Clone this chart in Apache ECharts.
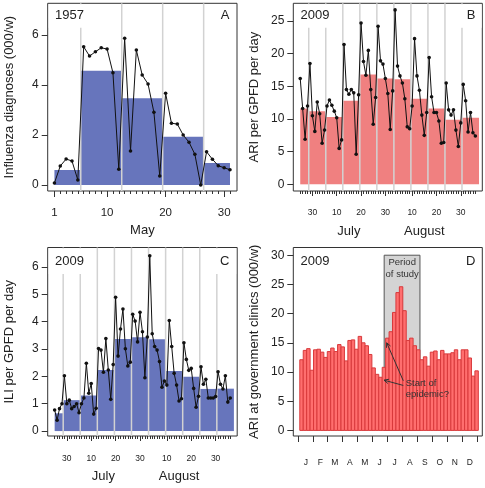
<!DOCTYPE html>
<html><head><meta charset="utf-8">
<script src="https://cdn.jsdelivr.net/npm/echarts@6/dist/echarts.min.js"></script>
<style>html,body{margin:0;padding:0;background:#fff}#c{width:485px;height:488px}</style>
</head><body><div id="c"></div>
<script>
// ---------- Panel A : 1957, May ----------
const aDays = [1,2,3,4,5,6,7,8,9,10,11,12,13,14,15,16,17,18,19,20,21,22,23,24,25,26,27,28,29,30,31];
const aDiagnoses = [0.08,0.76,1.04,0.96,0.2,5.53,5.16,5.33,5.49,5.44,4.49,0.63,5.87,1.36,5.4,4.4,4.04,2.91,0.36,3.67,2.47,2.44,2.0,1.71,1.23,0.0,1.33,1.03,0.77,0.69,0.61];
const aWeekStart = [1,5.5,12.5,19.5,26.5];
const aWeekEnd = [5.5,12.5,19.5,26.5,31];
const aWeekMean = [0.6,4.57,3.47,1.93,0.88];
const aTickDays = [1,10,20,30];
const aYTicks = [0,2,4,6];

// ---------- Panels B & C : 2009, days counted from 30 June ----------
const bcDays = [-5,-4,-3,-2,-1,0,1,2,3,4,5,6,7,8,9,10,11,12,13,14,15,16,17,18,19,20,21,22,23,24,25,26,27,28,29,30,31,32,33,34,35,36,37,38,39,40,41,42,43,44,45,46,47,48,49,50,51,52,53,54,55,56,57,58,59,60,61,62,63,64,65,66,67];
const bARI = [16.2,11.6,6.9,12.0,18.5,10.5,8.1,12.6,10.8,6.3,8.3,12.0,12.9,12.1,11.2,10.2,5.5,6.8,21.4,14.5,13.8,14.5,14.0,4.6,13.7,24.7,18.8,16.7,20.5,14.5,9.2,13.3,24.2,18.9,18.4,16.2,13.9,8.4,14.3,26.7,18.1,16.6,15.5,13.1,8.8,8.5,12.0,22.3,16.6,14.4,10.6,7.5,11.0,19.4,13.4,11.0,11.0,9.7,6.3,6.4,15.5,11.4,10.6,11.4,8.3,5.8,9.4,15.3,12.8,8.0,11.0,7.9,7.4];
const cILI = [0.77,0.40,0.82,1.0,2.02,1.0,1.13,0.82,0.9,1.0,0.67,1.0,1.21,2.48,1.38,1.74,0.62,0.83,3.02,2.96,2.15,3.38,2.23,1.16,2.43,4.89,2.74,3.73,4.46,3.01,2.38,2.52,4.27,4.02,3.26,4.34,3.63,1.95,3.44,6.41,3.56,3.09,2.96,2.54,1.6,1.83,1.68,4.04,3.09,2.11,1.68,1.1,1.18,3.23,2.62,2.22,2.29,1.56,0.87,1.27,2.35,1.71,1.89,1.21,1.21,1.21,1.26,2.17,1.71,1.54,2.02,1.06,1.21];
const bcWeekStart = [-5,-1.5,5.5,12.5,19.5,26.5,33.5,40.5,47.5,54.5,61.5];
const bcWeekEnd = [-1.5,5.5,12.5,19.5,26.5,33.5,40.5,47.5,54.5,61.5,68.5];
const bWeekMean = [11.6,11.2,10.3,12.8,16.8,16.2,16.1,13.1,11.6,9.9,10.2];
const cWeekMean = [0.65,1.13,1.3,2.23,3.37,3.43,3.36,2.2,1.99,1.54,1.55];
const bcTickDays = [0,10,20,30,41,51,61];
const bcTickLabels = ['30','10','20','30','10','20','30'];
const bcMonthDays = [15,46];
const bcMonthLabels = ['July','August'];
const bYTicks = [0,5,10,15,20,25];
const cYTicks = [0,1,2,3,4,5,6];

// ---------- Panel D : 2009 weekly ARI, day of year ----------
const dWeekStart = [3,10,17,24,31,38,45,52,59,66,73,80,87,94,101,108,115,122,129,136,143,150,157,164,171,178,185,192,199,206,213,220,227,234,241,248,255,262,269,276,283,290,297,304,311,318,325,332,339,346,353,360];
const dWeekLength = 7;
const dARI = [12.1,13.7,14.0,10.3,13.8,13.9,13.4,12.5,13.5,14.1,13.5,14.7,14.3,11.9,15.4,15.5,13.9,16.1,15.0,14.5,13.0,10.7,9.6,9.1,10.8,15.8,16.9,20.2,23.6,24.6,20.5,15.4,15.8,14.5,13.8,12.1,12.6,11.0,13.4,13.6,12.1,13.7,13.1,13.1,13.3,13.8,12.1,13.8,13.8,12.4,9.3,10.2];
const dMonthStart = [0,31,59,90,120,151,181,212,243,273,304,334,365];
const dMonthLabels = ['J','F','M','A','M','J','J','A','S','O','N','D'];
const dStudyPeriod = [175,248];
const dStudyTop = 30;
const dArrows = [[214,8.5,180.2,15.0],[214,7.7,174.7,8.6]];
const dYTicks = [0,5,10,15,20,25,30];

// ---------- styling ----------
const FONT = 'Liberation Sans, Arial, sans-serif';
const TXT = '#222';
const AX = '#333';
const BLUE = '#6775bc';
const SALMON = '#f08080';
const WEEKLINE = '#d2d2d2';

const chart = echarts.init(document.getElementById('c'), null, {renderer:'canvas'});

function gridBox(left, top, width, height){
  return {left, top, width, height, show:true, borderColor:AX, borderWidth:1, backgroundColor:'transparent', containLabel:false};
}
function yAx(grid, min, max, ticks, name){
  return {type:'value', gridIndex:grid, position:'left', min, max,
    axisLine:{show:false, onZero:false}, splitLine:{show:false},
    axisTick:{show:true, customValues:ticks, length:6, lineStyle:{color:AX}},
    axisLabel:{show:true, customValues:ticks, fontSize:12, fontFamily:FONT, color:TXT, margin:9},
    name, nameLocation:'middle', nameGap:32, nameRotate:90,
    nameTextStyle:{fontSize:13, fontFamily:FONT, color:TXT}};
}
function xMinor(grid, min, max, ticks){
  return {type:'value', gridIndex:grid, position:'bottom', offset:0, min, max, axisLine:{show:false, onZero:false}, splitLine:{show:false},
    axisTick:{show:true, customValues:ticks, length:3, lineStyle:{color:AX}}, axisLabel:{show:false}};
}
function xMajor(grid, min, max, ticks, labels, fs, margin, len){
  return {type:'value', gridIndex:grid, position:'bottom', offset:0, min, max, axisLine:{show:false, onZero:false}, splitLine:{show:false},
    axisTick:{show:true, customValues:ticks, length:len, lineStyle:{color:AX}},
    axisLabel:{show:labels.length>0, customValues:ticks, fontSize:fs, fontFamily:FONT, color:TXT, margin,
      formatter:(v)=>{const i=ticks.indexOf(v); return i>=0 ? labels[i] : '';}}};
}
function xMonths(grid, min, max, pos, labels, fs, margin){
  return {type:'value', gridIndex:grid, position:'bottom', offset:0, min, max, axisLine:{show:false, onZero:false}, splitLine:{show:false},
    axisTick:{show:false},
    axisLabel:{show:true, customValues:pos, fontSize:fs, fontFamily:FONT, color:TXT, margin,
      formatter:(v)=>{const i=pos.indexOf(v); return i>=0 ? labels[i] : '';}}};
}

function barSeries(xi, yi, starts, ends, vals, fill, stroke, z){
  return {type:'custom', xAxisIndex:xi, yAxisIndex:yi, z, silent:true,
    encode:{x:[0,1], y:2},
    data: starts.map((s,i)=>[s, ends[i], vals[i]]),
    renderItem:(params, api)=>{
      const p0 = api.coord([api.value(0), api.value(2)]);
      const p1 = api.coord([api.value(1), 0]);
      const st = {fill};
      if (stroke){ st.stroke = stroke; st.lineWidth = 1; }
      return {type:'rect', shape:{x:p0[0], y:p0[1], width:p1[0]-p0[0], height:p1[1]-p0[1]}, style:st};
    }};
}
function weekLines(xi, yi, xs, z){
  return {type:'custom', xAxisIndex:xi, yAxisIndex:yi, z, silent:true,
    encode:{x:0},
    data: xs.map(x=>[x]),
    renderItem:(params, api)=>{
      const cs = params.coordSys;
      const x = api.coord([api.value(0), 0])[0];
      return {type:'line', shape:{x1:x, y1:cs.y, x2:x, y2:cs.y+cs.height}, style:{stroke:WEEKLINE, lineWidth:1.5}};
    }};
}
function dailyLine(xi, yi, xs, ys){
  return {type:'line', xAxisIndex:xi, yAxisIndex:yi, z:5, silent:true,
    data: xs.map((x,i)=>[x, ys[i]]),
    symbol:'circle', symbolSize:3.6, showSymbol:true,
    itemStyle:{color:'#111'}, lineStyle:{color:'#111', width:1}};
}

const AXMIN = -0.15, AXMAX = 32.2;
const BCMIN = -7.85, BCMAX = 69.85;
const DXMIN = -10.26, DXMAX = 375.1;
const dMonthMid = dMonthStart.slice(0,-1).map((m,i)=>(m+dMonthStart[i+1])/2);

const option = {
  animation:false,
  backgroundColor:'#fff',
  grid:[
    gridBox(47.7, 3.3, 189.3, 187.7),
    gridBox(293.3, 3.3, 189, 187.7),
    gridBox(47.7, 247.5, 189.5, 188.5),
    gridBox(293.3, 247.5, 189, 188.5)
  ],
  xAxis:[
    xMinor(0, AXMIN, AXMAX, aDays),                                   // 0
    Object.assign(xMajor(0, AXMIN, AXMAX, aTickDays, aTickDays.map(String), 11.5, 16, 6),
      {name:'May', nameLocation:'middle', nameGap:33, nameTextStyle:{fontSize:13, fontFamily:FONT, color:TXT}}), // 1
    xMinor(1, BCMIN, BCMAX, bcDays),                                  // 2
    xMajor(1, BCMIN, BCMAX, bcTickDays, bcTickLabels, 8.5, 17.5, 5),  // 3
    xMonths(1, BCMIN, BCMAX, bcMonthDays, bcMonthLabels, 13, 34),     // 4
    xMinor(2, BCMIN, BCMAX, bcDays),                                  // 5
    xMajor(2, BCMIN, BCMAX, bcTickDays, bcTickLabels, 8.5, 18.5, 5),  // 6
    xMonths(2, BCMIN, BCMAX, bcMonthDays, bcMonthLabels, 13, 34),     // 7
    xMajor(3, DXMIN, DXMAX, dMonthStart, [], 8.5, 22.5, 6),           // 8 month ticks
    xMonths(3, DXMIN, DXMAX, dMonthMid, dMonthLabels, 8.5, 22.5)      // 9 month letters
  ],
  yAxis:[
    yAx(0, -0.24, 7.27, aYTicks, 'Influenza diagnoses (000/w)'),
    yAx(1, -1.02, 27.71, bYTicks, 'ARI per GPFD per day'),
    yAx(2, -0.18, 6.71, cYTicks, 'ILI per GPFD per day'),
    yAx(3, -0.96, 31.32, dYTicks, 'ARI at government clinics (000/w)')
  ],
  series:[
    barSeries(1, 0, aWeekStart, aWeekEnd, aWeekMean, BLUE, null, 1),
    weekLines(1, 0, aWeekStart.slice(1), 2),
    dailyLine(1, 0, aDays, aDiagnoses),

    barSeries(3, 1, bcWeekStart, bcWeekEnd, bWeekMean, SALMON, null, 1),
    weekLines(3, 1, bcWeekStart.slice(1), 2),
    dailyLine(3, 1, bcDays, bARI),

    barSeries(6, 2, bcWeekStart, bcWeekEnd, cWeekMean, BLUE, null, 1),
    weekLines(6, 2, bcWeekStart.slice(1), 2),
    dailyLine(6, 2, bcDays, cILI),

    // D: study period box behind bars
    {type:'custom', xAxisIndex:8, yAxisIndex:3, z:1, silent:true, encode:{x:[0,1], y:2},
      data:[[dStudyPeriod[0], dStudyPeriod[1], dStudyTop]],
      renderItem:(params, api)=>{
        const p0 = api.coord([api.value(0), api.value(2)]);
        const p1 = api.coord([api.value(1), 0]);
        return {type:'rect', shape:{x:p0[0], y:p0[1], width:p1[0]-p0[0], height:p1[1]-p0[1]},
          style:{fill:'#d4d4d4', stroke:'#555', lineWidth:1}};
      }},
    barSeries(8, 3, dWeekStart, dWeekStart.map(s=>s+dWeekLength), dARI, '#ff6e6e', '#d8393b', 2),
    {type:'custom', xAxisIndex:8, yAxisIndex:3, z:4, silent:true, encode:{x:[0,2], y:[1,3]},
      data:dArrows,
      renderItem:(params, api)=>{
        const p0 = api.coord([api.value(0), api.value(1)]);
        const p1 = api.coord([api.value(2), api.value(3)]);
        const ang = Math.atan2(p1[1]-p0[1], p1[0]-p0[0]);
        const L = 5, A = 0.45;
        const h1 = [p1[0]-L*Math.cos(ang-A), p1[1]-L*Math.sin(ang-A)];
        const h2 = [p1[0]-L*Math.cos(ang+A), p1[1]-L*Math.sin(ang+A)];
        return {type:'group', children:[
          {type:'line', shape:{x1:p0[0], y1:p0[1], x2:p1[0], y2:p1[1]}, style:{stroke:'#333', lineWidth:1}},
          {type:'polyline', shape:{points:[h1, p1, h2]}, style:{stroke:'#333', lineWidth:1, fill:null}}
        ]};
      }}
  ],
  graphic:[
    // white label boxes covering the tops of week lines
    {type:'rect', z:50, shape:{x:48.7, y:4.3, width:40, height:23.5}, style:{fill:'#fff'}},
    {type:'rect', z:50, shape:{x:294.3, y:4.3, width:40, height:23.5}, style:{fill:'#fff'}},
    {type:'rect', z:50, shape:{x:453, y:4.3, width:28.6, height:23.5}, style:{fill:'#fff'}},
    {type:'rect', z:50, shape:{x:48.7, y:248.5, width:41, height:25.5}, style:{fill:'#fff'}},
    {type:'rect', z:50, shape:{x:209, y:248.5, width:27.2, height:25.5}, style:{fill:'#fff'}},
    ...[
      ['1957', 55, 15, 'left'], ['A', 229.5, 15, 'right'],
      ['2009', 300.5, 15, 'left'], ['B', 475.5, 15, 'right'],
      ['2009', 55, 261.5, 'left'], ['C', 229.5, 261.5, 'right'],
      ['2009', 300.5, 261.5, 'left'], ['D', 475.5, 261.5, 'right']
    ].map(([t,x,y,al])=>({type:'text', z:51, x, y,
      style:{text:t, fill:TXT, font:'13px '+FONT, textAlign:al, align:al, textVerticalAlign:'middle', verticalAlign:'middle'}})),
    ...[
      ['Period', 402.2, 262, 'center'], ['of study', 402.2, 274, 'center'],
      ['Start of', 405.7, 383, 'left'], ['epidemic?', 405.7, 394.7, 'left']
    ].map(([t,x,y,al])=>({type:'text', z:51, x, y,
      style:{text:t, fill:'#333', font:'9.5px '+FONT, textAlign:al, align:al, textVerticalAlign:'middle', verticalAlign:'middle'}}))
  ]
};
chart.setOption(option);
</script>
</body></html>
